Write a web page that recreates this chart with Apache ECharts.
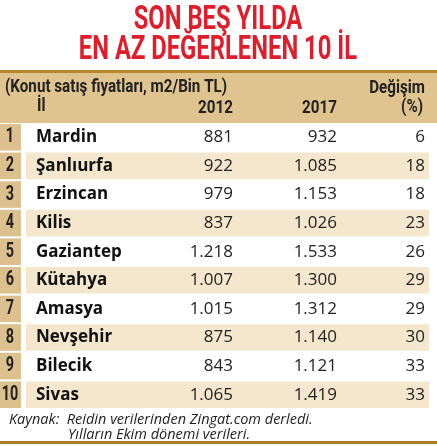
<!DOCTYPE html>
<html><head><meta charset="utf-8">
<script src="https://cdn.jsdelivr.net/npm/echarts@6/dist/echarts.min.js"></script>
<style>html,body{margin:0;padding:0;background:#fff}#c{width:437px;height:446px}</style>
</head><body><div id="c"></div>
<script>
const titleLines = ['SON BEŞ YILDA', 'EN AZ DEĞERLENEN 10 İL'];
const cities = ['Mardin','Şanlıurfa','Erzincan','Kilis','Gaziantep','Kütahya','Amasya','Nevşehir','Bilecik','Sivas'];
const v2012 = ['881','922','979','837','1.218','1.007','1.015','875','843','1.065'];
const v2017 = ['932','1.085','1.153','1.026','1.533','1.300','1.312','1.140','1.121','1.419'];
const change = ['6','18','18','23','26','29','29','30','33','33'];
const notes = ['Kaynak:  Reidin verilerinden Zingat.com derledi.', 'Yılların Ekim dönemi verileri.'];

const COND = 'Roboto,"Liberation Sans",sans-serif';
const BODY = '"Open Sans","Noto Sans",sans-serif';
const g = [];
function ctext(x,y,text,font,align,fill,sx,va){
  g.push({type:'text',x:x,y:y,scaleX:sx||0.8,style:{text:text,fill:fill||'#222',font:font,align:align||'left',verticalAlign:va||'top'}});
}
ctext(218,3,titleLines[0],'bold 34px '+COND,'center','#e01e2b',0.7);
ctext(218,33,titleLines[1],'bold 34px '+COND,'center','#e01e2b',0.7);
g.push({type:'rect',shape:{x:0,y:70,width:437,height:3},style:{fill:'#b5862c'}});
g.push({type:'rect',shape:{x:0,y:73,width:437,height:50},style:{fill:'#dfc48f'}});
const hf = 'bold 19px '+COND;
ctext(5,78,'(Konut satış fiyatları, m2/Bin TL)',hf);
ctext(37,97,'İl',hf);
ctext(233,99,'2012',hf,'right');
ctext(337,99,'2017',hf,'right');
ctext(425,79,'Değişim',hf,'right');
ctext(423,98,'(%)',hf,'right');
const top0 = 124, pitch = 28.6;
cities.forEach((c,i)=>{
  const y = top0 + i*pitch, h = pitch-2, cy = y + h/2;
  if (i%2===1) g.push({type:'rect',shape:{x:26,y:y,width:403,height:h},style:{fill:'#f4e7cd'}});
  g.push({type:'rect',shape:{x:0,y:y,width:21,height:h},style:{fill:'#dcc08d'}});
  ctext(10,cy,String(i+1),'bold 20px '+COND,'center','#222',0.72,'middle');
  g.push({type:'text',x:36,y:cy,style:{text:c,fill:'#111',font:'bold 17px '+BODY,verticalAlign:'middle'}});
  g.push({type:'text',x:233,y:cy,style:{text:v2012[i],fill:'#222',font:'17px '+BODY,align:'right',verticalAlign:'middle'}});
  g.push({type:'text',x:337,y:cy,style:{text:v2017[i],fill:'#222',font:'17px '+BODY,align:'right',verticalAlign:'middle'}});
  g.push({type:'text',x:425,y:cy,style:{text:change[i],fill:'#222',font:'17px '+BODY,align:'right',verticalAlign:'middle'}});
});
g.push({type:'text',x:9,y:412,style:{text:notes[0],fill:'#222',font:'italic 14.5px '+BODY}});
g.push({type:'text',x:68,y:427,style:{text:notes[1],fill:'#222',font:'italic 14.5px '+BODY}});
g.push({type:'rect',shape:{x:0,y:441,width:437,height:3},style:{fill:'#a97c26'}});
const chart = echarts.init(document.getElementById('c'));
chart.setOption({animation:false,graphic:g});
</script></body></html>
